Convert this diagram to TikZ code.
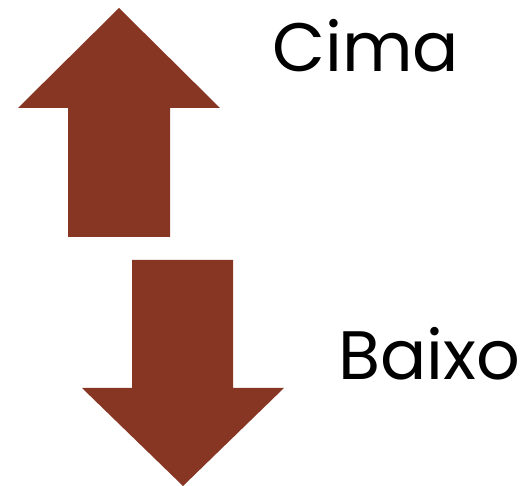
\documentclass[tikz,border=0pt]{standalone}
\usepackage{fontspec}
\setmainfont{Poppins}
\definecolor{setabrown}{RGB}{136,54,36}
\tikzset{
  seta/.style={fill=setabrown,draw=none},
  rotulo/.style={font=\fontsize{39}{41}\selectfont,inner sep=0pt,anchor=base west}
}
\begin{document}
\begin{tikzpicture}[x=0.02cm,y=-0.02cm]
  \useasboundingbox (0,0) rectangle (525,486);
  % seta para cima
  \fill[seta] (119,8) -- (220,108) -- (170,108) -- (170,237) -- (68,237) -- (68,108) -- (18,108) -- cycle;
  % seta para baixo
  \fill[seta] (132,260) -- (233,260) -- (233,388) -- (284,388) -- (183,486) -- (82,388) -- (132,388) -- cycle;
  \node[rotulo] (cima) at (272,72) {Cima};
  \node[rotulo] (baixo) at (338,380) {Baixo};
\end{tikzpicture}
\end{document}
